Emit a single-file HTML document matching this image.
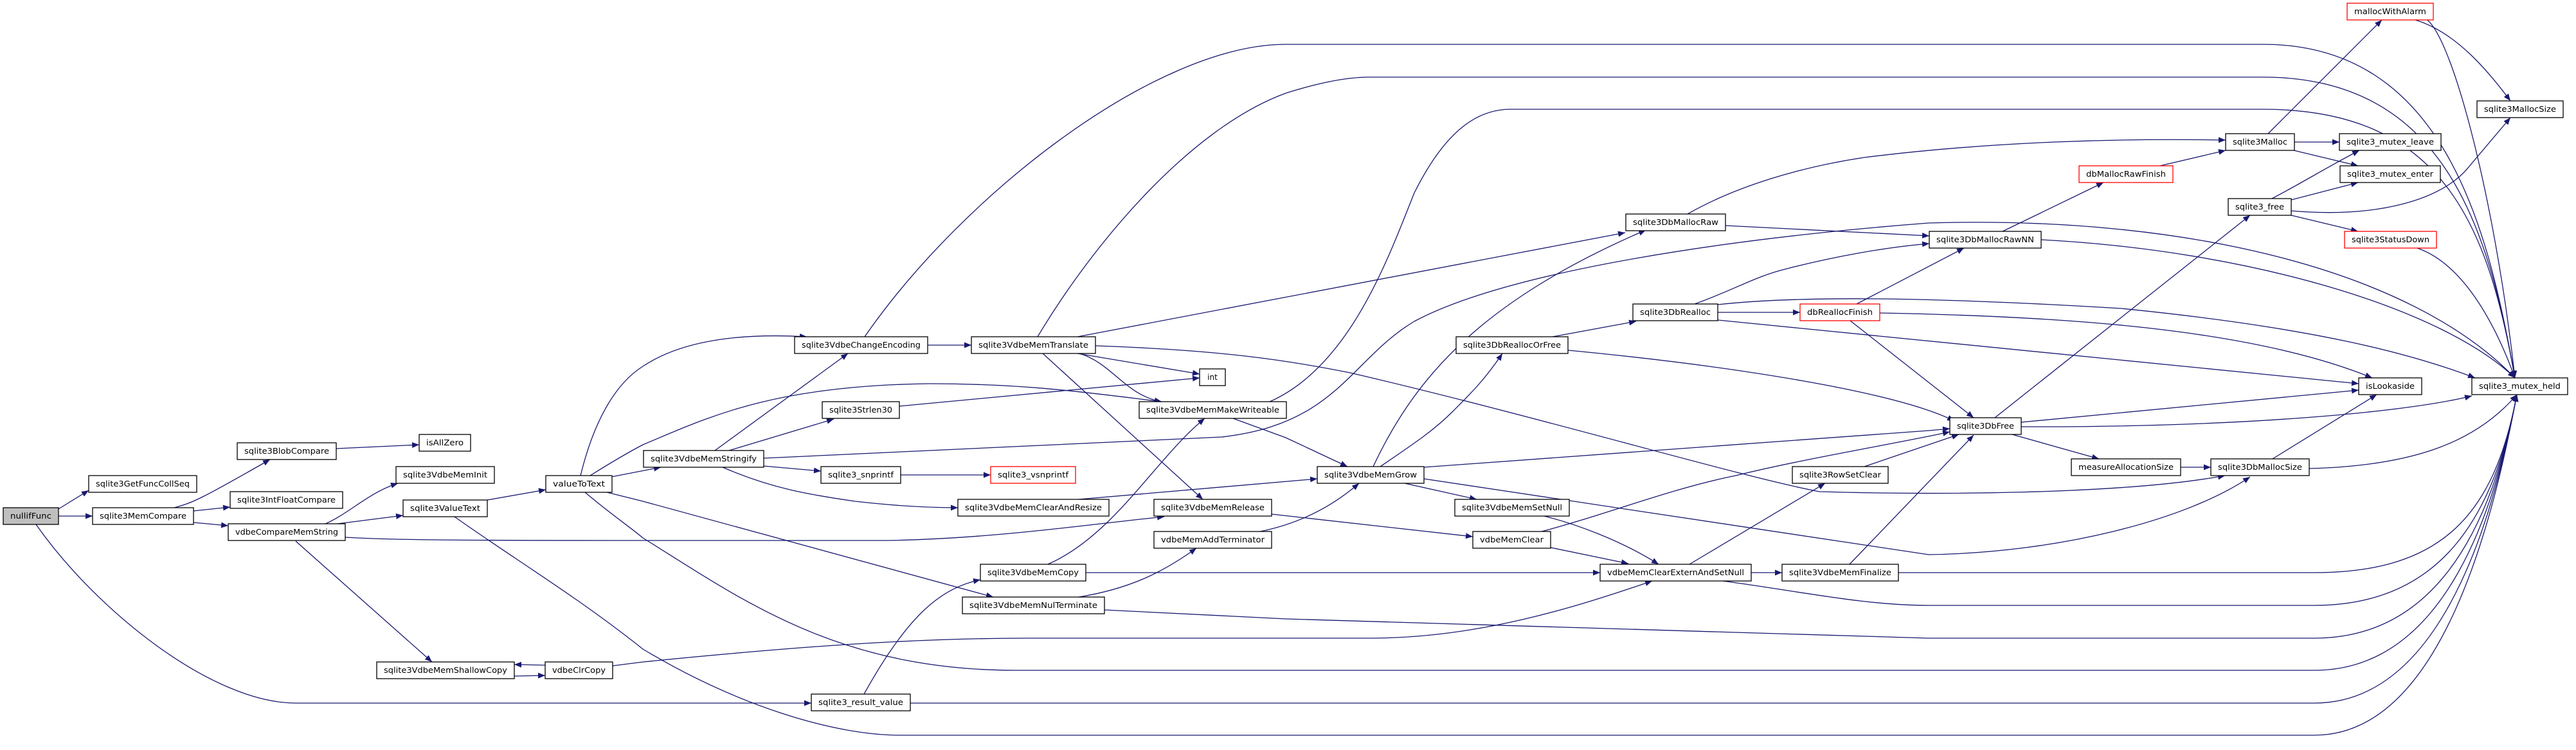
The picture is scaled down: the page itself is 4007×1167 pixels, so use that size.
<!DOCTYPE html>
<html><head><meta charset="utf-8"><style>
html,body{margin:0;padding:0;background:#fff}
svg{display:block}
text{font-family:"DejaVu Sans","Liberation Sans",sans-serif;font-size:12px;fill:#000}
.e{fill:none;stroke:#191970;stroke-width:1.3}
</style></head><body>
<svg width="4007" height="1167" viewBox="0 0 4007 1167" xmlns="http://www.w3.org/2000/svg">
<defs><marker id="a" markerUnits="userSpaceOnUse" markerWidth="12" markerHeight="9" refX="11" refY="4.5" orient="auto"><path d="M0,0 L11,4.5 L0,9 z" fill="#191970"/></marker></defs>
<g class="e" marker-end="url(#a)">
<path d="M91,792 L138,763"/>
<path d="M91,803 L144,803"/>
<path d="M56,816 C150,950 330,1094 460,1094 L1262,1094"/>
<path d="M271,790 C300,782 310,778 420,715"/>
<path d="M301,795 L358,789"/>
<path d="M301,813 L355,818"/>
<path d="M523,698 L652,692"/>
<path d="M504,816 C542,800 574,766 619,752"/>
<path d="M525,815 L627,802"/>
<path d="M460,842 L672,1030"/>
<path d="M537,836 C600,840 700,841 1000,841 L1380,841 C1550,838 1700,815 1811,804"/>
<path d="M758,778 L849,762"/>
<path d="M707,804 C800,870 900,930 1000,1010 C1150,1100 1300,1144 1400,1144 L3600,1144 C3800,1144 3880,800 3915,614"/>
<path d="M910,766 C950,800 980,820 1000,837 C1150,930 1300,1043 1580,1043 L3600,1043 C3800,1043 3880,800 3915,614"/>
<path d="M903,740 C925,650 960,595 1000,570 C1060,530 1150,518 1255,524"/>
<path d="M918,740 C950,720 975,705 1000,692 C1100,650 1200,600 1446,597 C1600,597 1700,612 1807,625"/>
<path d="M951,742 L1028,727"/>
<path d="M944,766 L1000,780 L1545,929"/>
<path d="M1112,701 L1319,550"/>
<path d="M1134,701 L1297,652"/>
<path d="M1187,725 L1277,733"/>
<path d="M1124,727 C1200,760 1260,770 1330,780 C1400,788 1450,790 1490,790"/>
<path d="M1187,713 L1900,680 C2080,660 2100,560 2200,500 C2350,420 2700,370 3000,347 C3400,335 3750,420 3912,588"/>
<path d="M1401,739 L1541,739"/>
<path d="M1399,632 L1866,588"/>
<path d="M1443,537 L1511,537"/>
<path d="M1676,550 L1866,582"/>
<path d="M1679,550 C1730,565 1750,615 1807,625"/>
<path d="M1622,550 L1871,777"/>
<path d="M1614,524 C1700,380 1850,200 2000,145 C2060,126 2100,120 2130,120 L3520,120 C3800,120 3870,350 3912,588"/>
<path d="M1345,524 C1500,300 1800,69 2000,69 L3520,69 C3800,69 3870,350 3912,588"/>
<path d="M1975,625 C2100,570 2160,400 2200,300 C2250,200 2300,170 2350,170 L3520,170 C3800,170 3870,350 3912,588"/>
<path d="M1676,524 L2528,362"/>
<path d="M1704,538 C1900,545 2000,560 2100,580 C2400,650 2700,740 2830,765 C3000,770 3300,770 3461,740"/>
<path d="M1630,878 C1733,833 1797,714 1874,651"/>
<path d="M1678,929 C1765,915 1816,885 1861,853"/>
<path d="M1718,949 L2000,963 L3000,993 L3600,993 C3800,993 3880,800 3915,614"/>
<path d="M1344,1080 C1415,952 1466,915 1525,902"/>
<path d="M1416,1094 L3600,1094 C3800,1094 3880,800 3915,614"/>
<path d="M848,1035 L800,1034"/>
<path d="M800,1052 L848,1051"/>
<path d="M953,1036 L1000,1030 C1200,1010 1400,993 1600,993 L2130,993 C2300,993 2450,945 2570,904"/>
<path d="M1918,651 L2000,681 L2096,726"/>
<path d="M1678,777 L2049,745"/>
<path d="M1960,827 C2020,815 2070,790 2114,752"/>
<path d="M1978,800 L2291,835"/>
<path d="M1689,891 L2489,891"/>
<path d="M2136,726 C2200,590 2300,470 2560,358"/>
<path d="M2147,726 C2200,690 2230,670 2260,640 C2290,610 2310,590 2337,550"/>
<path d="M2185,752 L2297,777"/>
<path d="M2215,727 L3000,670 L3033,667"/>
<path d="M2215,745 L3000,863 C3200,860 3400,810 3500,742"/>
<path d="M2402,803 C2450,815 2520,840 2580,878"/>
<path d="M2412,852 L2533,877"/>
<path d="M2398,827 C2500,800 2600,760 2700,740 C2800,715 2950,690 3033,672"/>
<path d="M2628,878 L2839,752"/>
<path d="M2724,891 L2772,891"/>
<path d="M2680,904 C2800,920 2900,942 3000,942 L3600,942 C3800,942 3880,800 3915,614"/>
<path d="M2877,878 L3070,677"/>
<path d="M2953,891 L3600,891 C3800,891 3880,800 3915,614"/>
<path d="M2900,726 L3047,676"/>
<path d="M2415,524 L2545,500"/>
<path d="M2439,545 C2700,570 2950,610 3040,655"/>
<path d="M2672,486 L2800,486"/>
<path d="M2636,473 C2700,450 2730,430 2780,418 C2850,400 2930,385 3001,379"/>
<path d="M2672,474 C2800,460 3000,462 3300,480 C3600,510 3750,550 3850,588"/>
<path d="M2672,498 L3669,597"/>
<path d="M2888,473 L3055,386"/>
<path d="M2924,487 C3200,492 3500,510 3690,588"/>
<path d="M2878,499 L3070,650"/>
<path d="M2684,351 L3001,367"/>
<path d="M2625,333 C2700,290 2800,260 2900,245 C3100,220 3300,215 3462,218"/>
<path d="M3115,360 L3272,284"/>
<path d="M3175,373 C3500,390 3800,480 3912,588"/>
<path d="M3360,258 L3462,234"/>
<path d="M3528,208 L3705,31"/>
<path d="M3569,221 L3639,221"/>
<path d="M3568,234 L3668,258"/>
<path d="M3534,309 C3580,285 3620,260 3670,234"/>
<path d="M3564,311 L3668,284"/>
<path d="M3564,328 C3700,340 3800,310 3840,260 L3905,183"/>
<path d="M3564,335 L3668,360"/>
<path d="M3757,31 C3820,50 3870,110 3905,157"/>
<path d="M3770,28 C3810,40 3880,300 3912,588"/>
<path d="M3760,386 C3830,410 3880,500 3912,588"/>
<path d="M3103,650 L3500,335"/>
<path d="M3144,657 L3669,607"/>
<path d="M3144,664 C3500,665 3750,640 3845,616"/>
<path d="M3130,676 L3265,714"/>
<path d="M3392,727 L3439,727"/>
<path d="M3535,714 L3697,614"/>
<path d="M3592,729 C3750,725 3850,690 3915,614"/>
</g>
<g id="nodes" stroke-width="1.3">
<rect x="5" y="790" width="86" height="26" fill="#bfbfbf" stroke="#000"/><text x="48" y="807" text-anchor="middle" textLength="64" lengthAdjust="spacingAndGlyphs">nullifFunc</text>
<rect x="138" y="740" width="168" height="26" fill="#fff" stroke="#000"/><text x="222" y="757" text-anchor="middle" textLength="146" lengthAdjust="spacingAndGlyphs">sqlite3GetFuncCollSeq</text>
<rect x="144" y="790" width="157" height="26" fill="#fff" stroke="#000"/><text x="222.5" y="807" text-anchor="middle" textLength="135" lengthAdjust="spacingAndGlyphs">sqlite3MemCompare</text>
<rect x="369" y="689" width="154" height="26" fill="#fff" stroke="#000"/><text x="446" y="706" text-anchor="middle" textLength="132" lengthAdjust="spacingAndGlyphs">sqlite3BlobCompare</text>
<rect x="652" y="676" width="80" height="26" fill="#fff" stroke="#000"/><text x="692" y="693" text-anchor="middle" textLength="58" lengthAdjust="spacingAndGlyphs">isAllZero</text>
<rect x="358" y="765" width="175" height="26" fill="#fff" stroke="#000"/><text x="445.5" y="782" text-anchor="middle" textLength="153" lengthAdjust="spacingAndGlyphs">sqlite3IntFloatCompare</text>
<rect x="616" y="726" width="153" height="26" fill="#fff" stroke="#000"/><text x="692.5" y="743" text-anchor="middle" textLength="131" lengthAdjust="spacingAndGlyphs">sqlite3VdbeMemInit</text>
<rect x="627" y="778" width="131" height="26" fill="#fff" stroke="#000"/><text x="692.5" y="795" text-anchor="middle" textLength="109" lengthAdjust="spacingAndGlyphs">sqlite3ValueText</text>
<rect x="355" y="815" width="182" height="26" fill="#fff" stroke="#000"/><text x="446" y="832" text-anchor="middle" textLength="160" lengthAdjust="spacingAndGlyphs">vdbeCompareMemString</text>
<rect x="849" y="740" width="103" height="26" fill="#fff" stroke="#000"/><text x="900.5" y="757" text-anchor="middle" textLength="81" lengthAdjust="spacingAndGlyphs">valueToText</text>
<rect x="586" y="1030" width="214" height="26" fill="#fff" stroke="#000"/><text x="693" y="1047" text-anchor="middle" textLength="192" lengthAdjust="spacingAndGlyphs">sqlite3VdbeMemShallowCopy</text>
<rect x="848" y="1030" width="105" height="26" fill="#fff" stroke="#000"/><text x="900.5" y="1047" text-anchor="middle" textLength="83" lengthAdjust="spacingAndGlyphs">vdbeClrCopy</text>
<rect x="1236" y="524" width="207" height="26" fill="#fff" stroke="#000"/><text x="1339.5" y="541" text-anchor="middle" textLength="185" lengthAdjust="spacingAndGlyphs">sqlite3VdbeChangeEncoding</text>
<rect x="1511" y="524" width="193" height="26" fill="#fff" stroke="#000"/><text x="1607.5" y="541" text-anchor="middle" textLength="171" lengthAdjust="spacingAndGlyphs">sqlite3VdbeMemTranslate</text>
<rect x="1866" y="574" width="40" height="26" fill="#fff" stroke="#000"/><text x="1886" y="591" text-anchor="middle">int</text>
<rect x="1279" y="625" width="120" height="26" fill="#fff" stroke="#000"/><text x="1339" y="642" text-anchor="middle" textLength="98" lengthAdjust="spacingAndGlyphs">sqlite3Strlen30</text>
<rect x="1772" y="625" width="229" height="26" fill="#fff" stroke="#000"/><text x="1886.5" y="642" text-anchor="middle" textLength="207" lengthAdjust="spacingAndGlyphs">sqlite3VdbeMemMakeWriteable</text>
<rect x="1001" y="701" width="187" height="26" fill="#fff" stroke="#000"/><text x="1094.5" y="718" text-anchor="middle" textLength="165" lengthAdjust="spacingAndGlyphs">sqlite3VdbeMemStringify</text>
<rect x="1277" y="726" width="124" height="26" fill="#fff" stroke="#000"/><text x="1339" y="743" text-anchor="middle" textLength="102" lengthAdjust="spacingAndGlyphs">sqlite3_snprintf</text>
<rect x="1541" y="726" width="132" height="26" fill="#fff" stroke="#f00"/><text x="1607" y="743" text-anchor="middle" textLength="110" lengthAdjust="spacingAndGlyphs">sqlite3_vsnprintf</text>
<rect x="1490" y="777" width="235" height="26" fill="#fff" stroke="#000"/><text x="1607.5" y="794" text-anchor="middle" textLength="213" lengthAdjust="spacingAndGlyphs">sqlite3VdbeMemClearAndResize</text>
<rect x="1795" y="777" width="183" height="26" fill="#fff" stroke="#000"/><text x="1886.5" y="794" text-anchor="middle" textLength="161" lengthAdjust="spacingAndGlyphs">sqlite3VdbeMemRelease</text>
<rect x="1795" y="827" width="183" height="26" fill="#fff" stroke="#000"/><text x="1886.5" y="844" text-anchor="middle" textLength="161" lengthAdjust="spacingAndGlyphs">vdbeMemAddTerminator</text>
<rect x="1525" y="878" width="164" height="26" fill="#fff" stroke="#000"/><text x="1607" y="895" text-anchor="middle" textLength="142" lengthAdjust="spacingAndGlyphs">sqlite3VdbeMemCopy</text>
<rect x="1497" y="929" width="221" height="26" fill="#fff" stroke="#000"/><text x="1607.5" y="946" text-anchor="middle" textLength="199" lengthAdjust="spacingAndGlyphs">sqlite3VdbeMemNulTerminate</text>
<rect x="1262" y="1080" width="154" height="26" fill="#fff" stroke="#000"/><text x="1339" y="1097" text-anchor="middle" textLength="132" lengthAdjust="spacingAndGlyphs">sqlite3_result_value</text>
<rect x="2529" y="333" width="155" height="26" fill="#fff" stroke="#000"/><text x="2606.5" y="350" text-anchor="middle" textLength="133" lengthAdjust="spacingAndGlyphs">sqlite3DbMallocRaw</text>
<rect x="2540" y="473" width="132" height="26" fill="#fff" stroke="#000"/><text x="2606" y="490" text-anchor="middle" textLength="110" lengthAdjust="spacingAndGlyphs">sqlite3DbRealloc</text>
<rect x="2800" y="473" width="124" height="26" fill="#fff" stroke="#f00"/><text x="2862" y="490" text-anchor="middle" textLength="102" lengthAdjust="spacingAndGlyphs">dbReallocFinish</text>
<rect x="2265" y="524" width="174" height="26" fill="#fff" stroke="#000"/><text x="2352" y="541" text-anchor="middle" textLength="152" lengthAdjust="spacingAndGlyphs">sqlite3DbReallocOrFree</text>
<rect x="2049" y="726" width="166" height="26" fill="#fff" stroke="#000"/><text x="2132" y="743" text-anchor="middle" textLength="144" lengthAdjust="spacingAndGlyphs">sqlite3VdbeMemGrow</text>
<rect x="2263" y="777" width="178" height="26" fill="#fff" stroke="#000"/><text x="2352" y="794" text-anchor="middle" textLength="156" lengthAdjust="spacingAndGlyphs">sqlite3VdbeMemSetNull</text>
<rect x="2291" y="827" width="121" height="26" fill="#fff" stroke="#000"/><text x="2351.5" y="844" text-anchor="middle" textLength="99" lengthAdjust="spacingAndGlyphs">vdbeMemClear</text>
<rect x="2489" y="878" width="235" height="26" fill="#fff" stroke="#000"/><text x="2606.5" y="895" text-anchor="middle" textLength="213" lengthAdjust="spacingAndGlyphs">vdbeMemClearExternAndSetNull</text>
<rect x="2772" y="878" width="181" height="26" fill="#fff" stroke="#000"/><text x="2862.5" y="895" text-anchor="middle" textLength="159" lengthAdjust="spacingAndGlyphs">sqlite3VdbeMemFinalize</text>
<rect x="2788" y="726" width="149" height="26" fill="#fff" stroke="#000"/><text x="2862.5" y="743" text-anchor="middle" textLength="127" lengthAdjust="spacingAndGlyphs">sqlite3RowSetClear</text>
<rect x="3651" y="5" width="134" height="26" fill="#fff" stroke="#f00"/><text x="3718" y="22" text-anchor="middle" textLength="112" lengthAdjust="spacingAndGlyphs">mallocWithAlarm</text>
<rect x="3853" y="157" width="134" height="26" fill="#fff" stroke="#000"/><text x="3920" y="174" text-anchor="middle" textLength="112" lengthAdjust="spacingAndGlyphs">sqlite3MallocSize</text>
<rect x="3462" y="208" width="107" height="26" fill="#fff" stroke="#000"/><text x="3515.5" y="225" text-anchor="middle" textLength="85" lengthAdjust="spacingAndGlyphs">sqlite3Malloc</text>
<rect x="3639" y="208" width="158" height="26" fill="#fff" stroke="#000"/><text x="3718" y="225" text-anchor="middle" textLength="136" lengthAdjust="spacingAndGlyphs">sqlite3_mutex_leave</text>
<rect x="3640" y="258" width="156" height="26" fill="#fff" stroke="#000"/><text x="3718" y="275" text-anchor="middle" textLength="134" lengthAdjust="spacingAndGlyphs">sqlite3_mutex_enter</text>
<rect x="3234" y="258" width="146" height="26" fill="#fff" stroke="#f00"/><text x="3307" y="275" text-anchor="middle" textLength="124" lengthAdjust="spacingAndGlyphs">dbMallocRawFinish</text>
<rect x="3466" y="309" width="98" height="26" fill="#fff" stroke="#000"/><text x="3515" y="326" text-anchor="middle" textLength="76" lengthAdjust="spacingAndGlyphs">sqlite3_free</text>
<rect x="3647" y="360" width="143" height="26" fill="#fff" stroke="#f00"/><text x="3718.5" y="377" text-anchor="middle" textLength="121" lengthAdjust="spacingAndGlyphs">sqlite3StatusDown</text>
<rect x="3001" y="360" width="174" height="26" fill="#fff" stroke="#000"/><text x="3088" y="377" text-anchor="middle" textLength="152" lengthAdjust="spacingAndGlyphs">sqlite3DbMallocRawNN</text>
<rect x="3669" y="588" width="98" height="26" fill="#fff" stroke="#000"/><text x="3718" y="605" text-anchor="middle" textLength="76" lengthAdjust="spacingAndGlyphs">isLookaside</text>
<rect x="3845" y="588" width="149" height="26" fill="#fff" stroke="#000"/><text x="3919.5" y="605" text-anchor="middle" textLength="127" lengthAdjust="spacingAndGlyphs">sqlite3_mutex_held</text>
<rect x="3033" y="650" width="111" height="26" fill="#fff" stroke="#000"/><text x="3088.5" y="667" text-anchor="middle" textLength="89" lengthAdjust="spacingAndGlyphs">sqlite3DbFree</text>
<rect x="3222" y="714" width="170" height="26" fill="#fff" stroke="#000"/><text x="3307" y="731" text-anchor="middle" textLength="148" lengthAdjust="spacingAndGlyphs">measureAllocationSize</text>
<rect x="3439" y="714" width="153" height="26" fill="#fff" stroke="#000"/><text x="3515.5" y="731" text-anchor="middle" textLength="131" lengthAdjust="spacingAndGlyphs">sqlite3DbMallocSize</text>
</g>
</svg>
</body></html>
